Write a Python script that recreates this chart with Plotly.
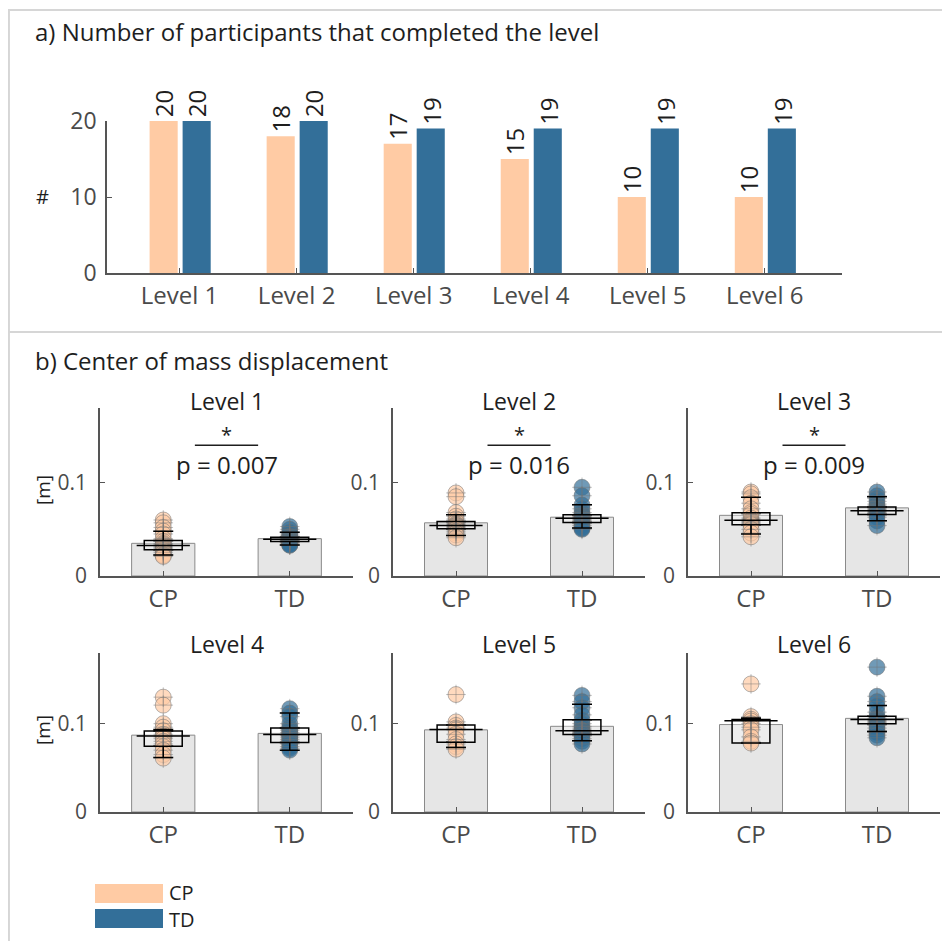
import plotly.graph_objects as go

# ---------------- data ----------------
levels = ["Level 1", "Level 2", "Level 3", "Level 4", "Level 5", "Level 6"]
groups = ["CP", "TD"]
cp_completed = [20, 18, 17, 15, 10, 10]
td_completed = [20, 20, 19, 19, 19, 19]

cp_points = [
    [0.060, 0.057, 0.052, 0.048, 0.045, 0.040, 0.037, 0.035, 0.034, 0.033,
     0.032, 0.031, 0.030, 0.029, 0.028, 0.027, 0.025, 0.023, 0.022, 0.021],
    [0.089, 0.085, 0.068, 0.064, 0.061, 0.058, 0.056, 0.055, 0.054, 0.054,
     0.053, 0.052, 0.051, 0.050, 0.048, 0.046, 0.044, 0.041],
    [0.090, 0.088, 0.084, 0.078, 0.072, 0.068, 0.066, 0.062, 0.060, 0.059,
     0.058, 0.057, 0.056, 0.055, 0.050, 0.046, 0.042],
    [0.130, 0.121, 0.100, 0.096, 0.092, 0.088, 0.086, 0.085, 0.083, 0.080,
     0.077, 0.074, 0.070, 0.065, 0.061],
    [0.133, 0.102, 0.098, 0.095, 0.093, 0.088, 0.082, 0.077, 0.074, 0.071],
    [0.145, 0.108, 0.105, 0.103, 0.100, 0.096, 0.093, 0.085, 0.080, 0.078],
]
td_points = [
    [0.053, 0.050, 0.047, 0.045, 0.043, 0.042, 0.041, 0.040, 0.040, 0.039,
     0.039, 0.038, 0.038, 0.037, 0.037, 0.036, 0.035, 0.034, 0.033, 0.033],
    [0.095, 0.086, 0.076, 0.072, 0.068, 0.066, 0.065, 0.064, 0.063, 0.062,
     0.062, 0.061, 0.060, 0.059, 0.058, 0.056, 0.054, 0.052, 0.051, 0.050],
    [0.090, 0.086, 0.083, 0.080, 0.077, 0.075, 0.074, 0.073, 0.072, 0.071,
     0.070, 0.070, 0.069, 0.068, 0.067, 0.066, 0.063, 0.059, 0.054],
    [0.117, 0.112, 0.108, 0.100, 0.096, 0.094, 0.092, 0.090, 0.088, 0.087,
     0.086, 0.084, 0.082, 0.080, 0.079, 0.077, 0.074, 0.072, 0.070],
    [0.132, 0.125, 0.118, 0.110, 0.104, 0.100, 0.097, 0.095, 0.093, 0.092,
     0.092, 0.091, 0.090, 0.089, 0.088, 0.086, 0.083, 0.080, 0.077],
    [0.164, 0.131, 0.125, 0.120, 0.113, 0.108, 0.106, 0.105, 0.104, 0.103,
     0.102, 0.101, 0.100, 0.098, 0.095, 0.092, 0.090, 0.087, 0.084],
]

cp_mean = [0.035, 0.057, 0.065, 0.087, 0.093, 0.099]
td_mean = [0.040, 0.063, 0.073, 0.089, 0.097, 0.106]

cp_q1 = [0.028, 0.0505, 0.055, 0.0745, 0.079, 0.078]
cp_med = [0.0326, 0.054, 0.0597, 0.086, 0.0933, 0.1034]
cp_q3 = [0.038, 0.0584, 0.0678, 0.0917, 0.0986, 0.1046]
cp_wlo = [0.0226, 0.0434, 0.045, 0.0618, 0.073, 0.078]
cp_whi = [0.048, 0.0656, 0.0843, 0.0933, 0.0986, 0.1065]

td_q1 = [0.0369, 0.0573, 0.066, 0.0787, 0.0876, 0.100]
td_med = [0.0394, 0.062, 0.070, 0.0876, 0.092, 0.1046]
td_q3 = [0.0416, 0.0656, 0.074, 0.095, 0.1043, 0.1083]
td_wlo = [0.0333, 0.0513, 0.0593, 0.070, 0.0807, 0.0912]
td_whi = [0.047, 0.0763, 0.085, 0.112, 0.122, 0.1205]

p_labels = ["p = 0.007", "p = 0.016", "p = 0.009", None, None, None]

# ---------------- style ----------------
PAGE_OFF = 8           # default page margin of the html body
W, H = 950 - PAGE_OFF, 941 - PAGE_OFF
CP_COL = "#FFCBA4"
TD_COL = "#336F99"
CP_PT = "rgba(255,203,164,0.7)"
TD_PT = "rgba(51,111,153,0.7)"
AX_COL = "#555555"
TICK_COL = "#4a4a4a"
TXT_COL = "#1e1e1e"
FONT = "Open Sans"


def px(x):
    return (x - PAGE_OFF) / W


def py(y):
    return 1 - (y - PAGE_OFF) / H


fig = go.Figure()

# ---------------- top panel ----------------
cat_x = list(range(1, len(levels) + 1))
bw = 0.24
cp_off = -0.256
td_off = 0.026
fig.add_trace(go.Bar(x=cat_x, y=cp_completed, width=bw, offset=cp_off,
                     marker=dict(color=CP_COL, line=dict(width=0)),
                     xaxis="x", yaxis="y", name="CP"))
fig.add_trace(go.Bar(x=cat_x, y=td_completed, width=bw, offset=td_off,
                     marker=dict(color=TD_COL, line=dict(width=0)),
                     xaxis="x", yaxis="y", name="TD"))

annotations = []
for i, (c, t) in enumerate(zip(cp_completed, td_completed)):
    for val, off in ((c, cp_off), (t, td_off)):
        annotations.append(dict(x=cat_x[i] + off + bw / 2, y=val, xref="x", yref="y",
                                text=str(val), showarrow=False, textangle=-90,
                                xanchor="center", yanchor="bottom", yshift=2,
                                font=dict(family=FONT, size=24, color=TXT_COL)))

common_axis = dict(showline=True, linecolor=AX_COL, linewidth=1.5, ticks="inside",
                   ticklen=5, tickcolor=AX_COL, showgrid=False, zeroline=False,
                   automargin=False)

layout_axes = dict(
    xaxis=dict(domain=[px(107), px(842)], anchor="y", range=[0.38, 6.66],
               tickvals=cat_x, ticktext=levels,
               tickfont=dict(family=FONT, size=24, color=TICK_COL), **common_axis),
    yaxis=dict(domain=[py(273), py(121)], anchor="x", range=[0, 20],
               tickvals=[0, 10, 20], ticklabelstandoff=4,
               tickfont=dict(family=FONT, size=23, color=TICK_COL), **common_axis),
)

# ---------------- bottom panels ----------------
col_dom = [(100, 353), (393, 645), (688, 940)]
row_dom = [(576, 408), (812, 653)]
title_y = [401, 644]
box_w = 0.3
shapes = []

for i in range(6):
    k = i + 2
    xa, ya = f"x{k}", f"y{k}"
    r, c = divmod(i, 3)
    x0, x1 = col_dom[c]
    yb, yt = row_dom[r]
    layout_axes[f"xaxis{k}"] = dict(
        domain=[px(x0), px(x1)], anchor=ya, range=[0.5, 2.5],
        tickvals=[1, 2], ticktext=groups,
        tickfont=dict(family=FONT, size=24, color=TICK_COL), **common_axis)
    layout_axes[f"yaxis{k}"] = dict(
        domain=[py(yb), py(yt)], anchor=xa, range=[0, 0.18],
        tickvals=[0, 0.1], ticktext=["0", "0.1"], ticklabelstandoff=7,
        tickfont=dict(family=FONT, size=21, color=TICK_COL), **common_axis)

    # grey mean bars
    fig.add_trace(go.Bar(x=[1, 2], y=[cp_mean[i], td_mean[i]], width=0.5,
                         marker=dict(color="#e6e6e6", line=dict(color="#8a8a8a", width=1)),
                         xaxis=xa, yaxis=ya))
    # individual points
    for xv, pts, col in ((1, cp_points[i], CP_PT), (2, td_points[i], TD_PT)):
        fig.add_trace(go.Scatter(x=[xv] * len(pts), y=pts, mode="markers",
                                 marker=dict(size=16, color=col,
                                             line=dict(color="rgba(110,110,110,0.5)", width=1)),
                                 xaxis=xa, yaxis=ya))
        fig.add_trace(go.Scatter(x=[xv] * len(pts), y=pts, mode="markers",
                                 marker=dict(size=14, symbol="cross-thin-open",
                                             color="rgba(115,115,115,0.45)",
                                             line=dict(color="rgba(115,115,115,0.45)", width=1)),
                                 xaxis=xa, yaxis=ya))
    q1 = [cp_q1[i], td_q1[i]]
    q3 = [cp_q3[i], td_q3[i]]
    med = [cp_med[i], td_med[i]]
    wlo = [cp_wlo[i], td_wlo[i]]
    whi = [cp_whi[i], td_whi[i]]
    # box
    fig.add_trace(go.Bar(x=[1, 2], base=q1, y=[b - a for a, b in zip(q1, q3)], width=box_w,
                         marker=dict(color="rgba(255,255,255,0.3)",
                                     line=dict(color="black", width=1.5)),
                         xaxis=xa, yaxis=ya))
    # whiskers
    fig.add_trace(go.Scatter(x=[1, 2], y=q3, mode="markers",
                             marker=dict(size=1, color="rgba(0,0,0,0)"),
                             error_y=dict(type="data", symmetric=False,
                                          array=[b - a for a, b in zip(q3, whi)],
                                          arrayminus=[0, 0], color="black",
                                          thickness=1.5, width=10),
                             xaxis=xa, yaxis=ya))
    fig.add_trace(go.Scatter(x=[1, 2], y=q1, mode="markers",
                             marker=dict(size=1, color="rgba(0,0,0,0)"),
                             error_y=dict(type="data", symmetric=False,
                                          array=[0, 0],
                                          arrayminus=[a - b for a, b in zip(q1, wlo)],
                                          color="black", thickness=1.5, width=10),
                             xaxis=xa, yaxis=ya))
    # median
    fig.add_trace(go.Scatter(x=[1, 2], y=med, mode="markers",
                             marker=dict(size=38, symbol="line-ew-open", color="black",
                                         line=dict(color="black", width=1.5)),
                             xaxis=xa, yaxis=ya))

    # subplot title
    annotations.append(dict(x=px((x0 + x1) / 2), y=py(title_y[r]), xref="paper", yref="paper",
                            text=levels[i], showarrow=False, xanchor="center", yanchor="middle",
                            font=dict(family=FONT, size=23, color=TXT_COL)))
    # significance
    if p_labels[i]:
        shapes.append(dict(type="line", xref=xa, yref=ya, x0=1.25, x1=1.75, y0=0.14, y1=0.14,
                           line=dict(color=TXT_COL, width=1.5)))
        annotations.append(dict(x=1.5, y=0.152, xref=xa, yref=ya, text="*", showarrow=False,
                                xanchor="center", yanchor="middle",
                                font=dict(family=FONT, size=20, color=TXT_COL)))
        annotations.append(dict(x=1.5, y=0.119, xref=xa, yref=ya, text=p_labels[i],
                                showarrow=False, xanchor="center", yanchor="middle",
                                font=dict(family=FONT, size=24, color=TXT_COL)))

# ---------------- texts ----------------
annotations += [
    dict(x=px(33), y=py(31), xref="paper", yref="paper", xanchor="left", yanchor="middle",
         text="a) Number of participants that completed the level", showarrow=False,
         font=dict(family=FONT, size=24, color=TXT_COL)),
    dict(x=px(33), y=py(360), xref="paper", yref="paper", xanchor="left", yanchor="middle",
         text="b) Center of mass displacement", showarrow=False,
         font=dict(family=FONT, size=24, color=TXT_COL)),
    dict(x=px(42), y=py(197), xref="paper", yref="paper", xanchor="center", yanchor="middle",
         text="#", showarrow=False, font=dict(family=FONT, size=20, color=TXT_COL)),
    dict(x=px(43), y=py(490), xref="paper", yref="paper", xanchor="center", yanchor="middle",
         text="[m]", textangle=-90, showarrow=False, font=dict(family=FONT, size=19, color=TXT_COL)),
    dict(x=px(43), y=py(730), xref="paper", yref="paper", xanchor="center", yanchor="middle",
         text="[m]", textangle=-90, showarrow=False, font=dict(family=FONT, size=19, color=TXT_COL)),
    dict(x=px(167), y=py(892), xref="paper", yref="paper", xanchor="left", yanchor="middle",
         text="CP", showarrow=False, font=dict(family=FONT, size=20, color=TXT_COL)),
    dict(x=px(167), y=py(919), xref="paper", yref="paper", xanchor="left", yanchor="middle",
         text="TD", showarrow=False, font=dict(family=FONT, size=20, color=TXT_COL)),
]

# legend swatches and frame
shapes += [
    dict(type="rect", xref="paper", yref="paper", x0=px(95), x1=px(163), y0=py(903), y1=py(884),
         fillcolor=CP_COL, line=dict(width=0)),
    dict(type="rect", xref="paper", yref="paper", x0=px(95), x1=px(163), y0=py(928), y1=py(909),
         fillcolor=TD_COL, line=dict(width=0)),
    dict(type="line", xref="paper", yref="paper", x0=0, x1=1, y0=py(10), y1=py(10),
         line=dict(color="#d6d6d6", width=2)),
    dict(type="line", xref="paper", yref="paper", x0=0.001, x1=0.001, y0=py(10), y1=0,
         line=dict(color="#d6d6d6", width=2)),
    dict(type="line", xref="paper", yref="paper", x0=0, x1=1, y0=py(332), y1=py(332),
         line=dict(color="#d6d6d6", width=2)),
]

fig.update_layout(
    width=W, height=H, margin=dict(l=0, r=0, t=0, b=0, autoexpand=False),
    paper_bgcolor="white", plot_bgcolor="white", showlegend=False,
    barmode="overlay", annotations=annotations, shapes=shapes,
    font=dict(family=FONT), **layout_axes,
)

fig.write_html("out.html")
